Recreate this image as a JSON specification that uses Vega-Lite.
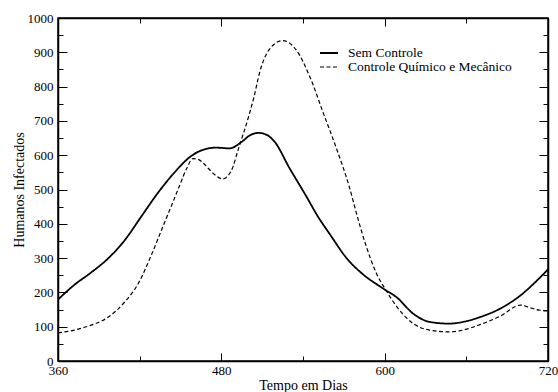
{
  "$schema": "https://vega.github.io/schema/vega-lite/v6.json",
  "width": 490,
  "height": 343,
  "autosize": "none",
  "padding": {"left": 58, "top": 18, "right": 10, "bottom": 31},
  "background": "white",
  "config": {
    "view": {"stroke": "black", "strokeWidth": 1.5},
    "font": "Liberation Serif",
    "axis": {
      "domainColor": "black",
      "domainWidth": 1.5,
      "tickColor": "black",
      "tickWidth": 1,
      "grid": false,
      "labelFont": "Liberation Serif",
      "labelFontSize": 13,
      "labelColor": "black",
      "titleFont": "Liberation Serif",
      "titleFontSize": 14,
      "titleFontWeight": "normal",
      "titleColor": "black"
    },
    "legend": {
      "labelFont": "Liberation Serif",
      "labelFontSize": 13.5,
      "labelColor": "black",
      "labelLimit": 400
    }
  },
  "data": {
    "values": [
      {"dia": 360, "humanos": 179, "serie": "Sem Controle"},
      {"dia": 372, "humanos": 222, "serie": "Sem Controle"},
      {"dia": 384, "humanos": 257, "serie": "Sem Controle"},
      {"dia": 396, "humanos": 296, "serie": "Sem Controle"},
      {"dia": 409, "humanos": 352, "serie": "Sem Controle"},
      {"dia": 421, "humanos": 420, "serie": "Sem Controle"},
      {"dia": 433, "humanos": 488, "serie": "Sem Controle"},
      {"dia": 445, "humanos": 547, "serie": "Sem Controle"},
      {"dia": 457, "humanos": 595, "serie": "Sem Controle"},
      {"dia": 466, "humanos": 615, "serie": "Sem Controle"},
      {"dia": 476, "humanos": 622, "serie": "Sem Controle"},
      {"dia": 486, "humanos": 620, "serie": "Sem Controle"},
      {"dia": 495, "humanos": 639, "serie": "Sem Controle"},
      {"dia": 501, "humanos": 658, "serie": "Sem Controle"},
      {"dia": 507, "humanos": 665, "serie": "Sem Controle"},
      {"dia": 513, "humanos": 660, "serie": "Sem Controle"},
      {"dia": 519, "humanos": 640, "serie": "Sem Controle"},
      {"dia": 530, "humanos": 563, "serie": "Sem Controle"},
      {"dia": 542, "humanos": 483, "serie": "Sem Controle"},
      {"dia": 551, "humanos": 421, "serie": "Sem Controle"},
      {"dia": 560, "humanos": 368, "serie": "Sem Controle"},
      {"dia": 572, "humanos": 300, "serie": "Sem Controle"},
      {"dia": 584, "humanos": 253, "serie": "Sem Controle"},
      {"dia": 599, "humanos": 211, "serie": "Sem Controle"},
      {"dia": 609, "humanos": 185, "serie": "Sem Controle"},
      {"dia": 621, "humanos": 138, "serie": "Sem Controle"},
      {"dia": 633, "humanos": 114, "serie": "Sem Controle"},
      {"dia": 647, "humanos": 109, "serie": "Sem Controle"},
      {"dia": 660, "humanos": 116, "serie": "Sem Controle"},
      {"dia": 670, "humanos": 128, "serie": "Sem Controle"},
      {"dia": 685, "humanos": 153, "serie": "Sem Controle"},
      {"dia": 700, "humanos": 192, "serie": "Sem Controle"},
      {"dia": 712, "humanos": 235, "serie": "Sem Controle"},
      {"dia": 720, "humanos": 267, "serie": "Sem Controle"},
      {"dia": 360, "humanos": 82, "serie": "Controle Químico e Mecânico"},
      {"dia": 372, "humanos": 90, "serie": "Controle Químico e Mecânico"},
      {"dia": 384, "humanos": 104, "serie": "Controle Químico e Mecânico"},
      {"dia": 397, "humanos": 128, "serie": "Controle Químico e Mecânico"},
      {"dia": 409, "humanos": 172, "serie": "Controle Químico e Mecânico"},
      {"dia": 419, "humanos": 226, "serie": "Controle Químico e Mecânico"},
      {"dia": 429, "humanos": 313, "serie": "Controle Químico e Mecânico"},
      {"dia": 438, "humanos": 401, "serie": "Controle Químico e Mecânico"},
      {"dia": 445, "humanos": 469, "serie": "Controle Químico e Mecânico"},
      {"dia": 449, "humanos": 508, "serie": "Controle Químico e Mecânico"},
      {"dia": 455, "humanos": 565, "serie": "Controle Químico e Mecânico"},
      {"dia": 459, "humanos": 590, "serie": "Controle Químico e Mecânico"},
      {"dia": 463, "humanos": 588, "serie": "Controle Químico e Mecânico"},
      {"dia": 467, "humanos": 576, "serie": "Controle Químico e Mecânico"},
      {"dia": 474, "humanos": 547, "serie": "Controle Químico e Mecânico"},
      {"dia": 481, "humanos": 531, "serie": "Controle Químico e Mecânico"},
      {"dia": 487, "humanos": 552, "serie": "Controle Químico e Mecânico"},
      {"dia": 493, "humanos": 624, "serie": "Controle Químico e Mecânico"},
      {"dia": 500, "humanos": 712, "serie": "Controle Químico e Mecânico"},
      {"dia": 504, "humanos": 770, "serie": "Controle Químico e Mecânico"},
      {"dia": 508, "humanos": 839, "serie": "Controle Químico e Mecânico"},
      {"dia": 515, "humanos": 907, "serie": "Controle Químico e Mecânico"},
      {"dia": 525, "humanos": 934, "serie": "Controle Químico e Mecânico"},
      {"dia": 535, "humanos": 907, "serie": "Controle Químico e Mecânico"},
      {"dia": 545, "humanos": 829, "serie": "Controle Químico e Mecânico"},
      {"dia": 555, "humanos": 722, "serie": "Controle Químico e Mecânico"},
      {"dia": 565, "humanos": 615, "serie": "Controle Químico e Mecânico"},
      {"dia": 574, "humanos": 508, "serie": "Controle Químico e Mecânico"},
      {"dia": 580, "humanos": 420, "serie": "Controle Químico e Mecânico"},
      {"dia": 586, "humanos": 340, "serie": "Controle Químico e Mecânico"},
      {"dia": 594, "humanos": 255, "serie": "Controle Químico e Mecânico"},
      {"dia": 601, "humanos": 206, "serie": "Controle Químico e Mecânico"},
      {"dia": 609, "humanos": 158, "serie": "Controle Químico e Mecânico"},
      {"dia": 621, "humanos": 109, "serie": "Controle Químico e Mecânico"},
      {"dia": 633, "humanos": 90, "serie": "Controle Químico e Mecânico"},
      {"dia": 647, "humanos": 85, "serie": "Controle Químico e Mecânico"},
      {"dia": 655, "humanos": 88, "serie": "Controle Químico e Mecânico"},
      {"dia": 670, "humanos": 106, "serie": "Controle Químico e Mecânico"},
      {"dia": 685, "humanos": 131, "serie": "Controle Químico e Mecânico"},
      {"dia": 700, "humanos": 163, "serie": "Controle Químico e Mecânico"},
      {"dia": 707, "humanos": 155, "serie": "Controle Químico e Mecânico"},
      {"dia": 714, "humanos": 148, "serie": "Controle Químico e Mecânico"},
      {"dia": 720, "humanos": 146, "serie": "Controle Químico e Mecânico"}
    ]
  },
  "resolve": {"axis": {"x": "independent", "y": "independent"}},
  "layer": [
    {
      "mark": {"type": "line", "interpolate": "monotone", "color": "black", "clip": true},
      "encoding": {
        "x": {
          "field": "dia", "type": "quantitative",
          "scale": {"domain": [360, 720], "nice": false, "zero": false},
          "axis": {
            "orient": "bottom",
            "title": "Tempo em Dias",
            "titlePadding": 1,
            "values": [360, 420, 480, 540, 600, 660, 720],
            "format": "d",
            "labelExpr": "datum.value % 120 === 0 ? datum.label : ''",
            "tickSize": {"condition": {"test": "datum.value % 120 === 0", "value": -8}, "value": -5},
            "labelPadding": 11,
            "labelFlush": false
          }
        },
        "y": {
          "field": "humanos", "type": "quantitative",
          "scale": {"domain": [0, 1000], "nice": false},
          "axis": {
            "orient": "left",
            "title": "Humanos Infectados",
            "titlePadding": 1,
            "values": [0, 50, 100, 150, 200, 250, 300, 350, 400, 450, 500, 550, 600, 650, 700, 750, 800, 850, 900, 950, 1000],
            "format": "d",
            "labelExpr": "datum.value % 100 === 0 ? datum.label : ''",
            "tickSize": {"condition": {"test": "datum.value % 100 === 0", "value": -9}, "value": -5},
            "labelPadding": 14,
            "labelFlush": false
          }
        },
        "strokeDash": {
          "field": "serie", "type": "nominal",
          "scale": {"domain": ["Sem Controle", "Controle Químico e Mecânico"], "range": [[1, 0], [4, 2.5]]},
          "legend": {
            "title": null,
            "orient": "none",
            "legendX": 264,
            "legendY": 28,
            "symbolType": "M-1.5,0H1.5",
            "symbolSize": 144,
            "symbolStrokeColor": "black",
            "symbolStrokeWidth": 1.3,
            "labelFont": "Liberation Serif",
            "labelFontSize": 13.5,
            "labelColor": "black",
            "labelLimit": 400,
            "labelOffset": 12,
            "rowPadding": 0
          }
        },
        "strokeWidth": {
          "field": "serie", "type": "nominal",
          "scale": {"domain": ["Sem Controle", "Controle Químico e Mecânico"], "range": [1.8, 1.2]},
          "legend": null
        }
      }
    },
    {
      "mark": {"type": "line", "opacity": 0},
      "encoding": {
        "x": {
          "field": "dia", "type": "quantitative",
          "axis": {
            "orient": "top",
            "title": null,
            "labels": false,
            "values": [360, 420, 480, 540, 600, 660, 720],
            "tickSize": {"condition": {"test": "datum.value % 120 === 0", "value": -8}, "value": -5}
          }
        },
        "y": {
          "field": "humanos", "type": "quantitative",
          "axis": {
            "orient": "right",
            "title": null,
            "labels": false,
            "values": [0, 50, 100, 150, 200, 250, 300, 350, 400, 450, 500, 550, 600, 650, 700, 750, 800, 850, 900, 950, 1000],
            "tickSize": {"condition": {"test": "datum.value % 100 === 0", "value": -9}, "value": -5}
          }
        }
      }
    }
  ]
}
